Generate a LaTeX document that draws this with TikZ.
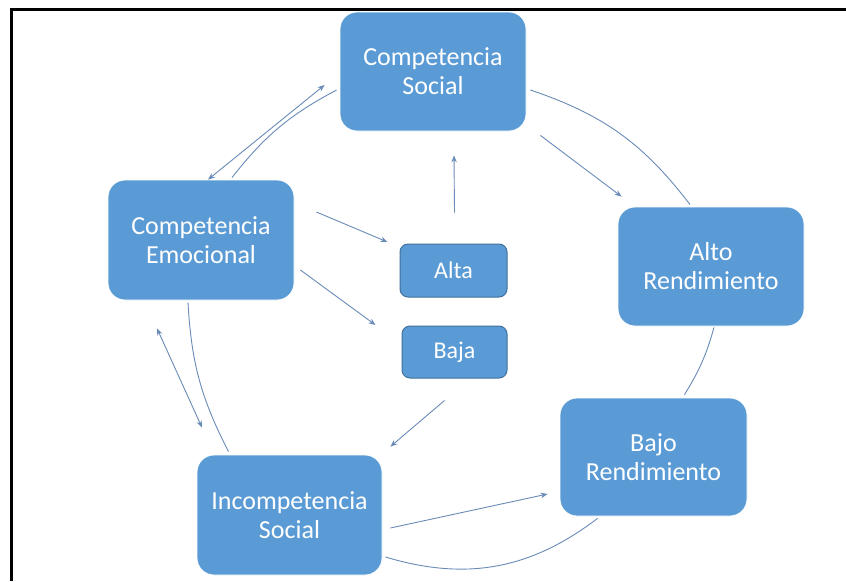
\documentclass[tikz,border=0pt]{standalone}
\usepackage{fontspec}
\setmainfont{Carlito}
\usetikzlibrary{calc,arrows.meta}
\definecolor{boxblue}{HTML}{5B9BD5}
\definecolor{boxedge}{HTML}{41719C}
\definecolor{linkc}{HTML}{6A8BB8}
\tikzset{
  bigbox/.style={fill=boxblue, draw=white, line width=0.8pt, rounded corners=17pt,
    text=white, align=center, font=\fontsize{26}{29}\selectfont, inner sep=0pt},
  smallbox/.style={fill=boxblue, draw=boxedge, line width=1pt, rounded corners=8pt,
    text=white, align=center, font=\fontsize{24}{27}\selectfont, inner sep=0pt},
  link/.style={draw=linkc, line width=0.9pt},
  tip/.style={-{Stealth[length=7pt,width=5.5pt]}},
  tips/.style={{Stealth[length=7pt,width=5.5pt]}-{Stealth[length=7pt,width=5.5pt]}},
}
\begin{document}
\begin{tikzpicture}[x=1pt,y=-1pt]
\useasboundingbox (0,0) rectangle (846,581);
\fill[white] (0,0) rectangle (846,581);
\draw[line width=3.5pt] (846,9.5) -- (11.5,9.5) -- (11.5,581);

\node[bigbox, minimum width=186pt, minimum height=119pt] (soc) at (433,71.5) {Competencia\\Social};
\node[bigbox, minimum width=186pt, minimum height=120pt] (emo) at (201,240) {Competencia\\Emocional};
\node[smallbox, minimum width=107pt, minimum height=53pt] (alta) at (453.5,270.5) {Alta};
\node[smallbox, minimum width=105pt, minimum height=52pt] (baja) at (454.5,352) {Baja};
\node[bigbox, minimum width=186pt, minimum height=119pt] (alto) at (711,266.5) {Alto\\Rendimiento};
\node[bigbox, minimum width=187pt, minimum height=118pt] (bajo) at (653.5,457) {Bajo\\Rendimiento};
\node[bigbox, minimum width=185pt, minimum height=120pt] (inc) at (289.5,515) {Incompetencia\\Social};

% outer ring curves
\draw[link] ($(emo.north)+(31,-2)$) to[bend left=12] ($(soc.west)+(-3,18.5)$);
\draw[link] ($(soc.east)+(4,18.5)$) to[bend left=17] ($(alto.north)+(-21,-2)$);
\draw[link] ($(alto.south)+(3,1)$) to[bend left=8] ($(bajo.north)+(31,-3)$);
\draw[link] ($(bajo.south)+(-56,2)$) to[bend left=27] ($(inc.east)+(3,42)$);
\draw[link] ($(inc.north)+(-61,-3)$) to[bend left=12] ($(emo.south)+(-13,2)$);

% straight arrows
\draw[link,tips] ($(emo.north)+(7,0)$) -- ($(soc.west)+(-15,13.5)$);
\draw[link,tips] ($(emo.south)+(-44,28)$) -- ($(inc.north)+(-87.5,-27)$);
\draw[link,tip] ($(soc.south east)+(14,4)$) -- ($(alto.north west)+(4,-10)$);
\draw[link,tip] ($(alta.north)+(1,-31)$) -- ($(soc.south)+(21,24)$);
\draw[link,tip] ($(emo.east)+(22,-28)$) -- ($(alta.west)+(-12,-28.5)$);
\draw[link,tip] ($(emo.east)+(6,30)$) -- ($(baja.west)+(-26,-27)$);
\draw[link,tip] ($(baja.south)+(-10,22)$) -- ($(inc.north east)+(8,-8)$);
\draw[link,tip] ($(inc.east)+(8,13)$) -- ($(bajo.west)+(-12,37)$);
\end{tikzpicture}
\end{document}
